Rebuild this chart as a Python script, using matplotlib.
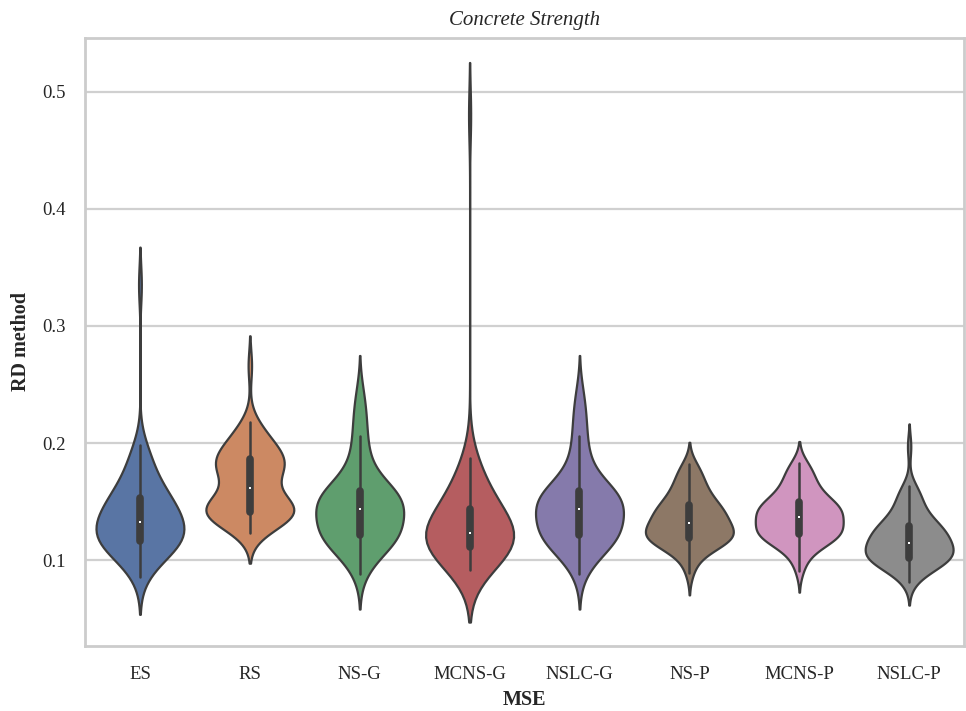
import matplotlib
matplotlib.use("Agg")
import matplotlib.pyplot as plt
import seaborn as sns
import pandas as pd

# MSE of each method over the runs (estimated from the violins)
methods = ["ES", "RS", "NS-G", "MCNS-G", "NSLC-G", "NS-P", "MCNS-P", "NSLC-P"]

es = [0.086, 0.092, 0.097, 0.100, 0.103, 0.105, 0.107, 0.109, 0.110, 0.111,
      0.112, 0.113, 0.114, 0.115, 0.116, 0.117, 0.118, 0.119, 0.120, 0.121,
      0.122, 0.123, 0.124, 0.125, 0.126, 0.127, 0.128, 0.129, 0.130, 0.132,
      0.134, 0.135, 0.136, 0.138, 0.139, 0.140, 0.142, 0.143, 0.145, 0.146,
      0.147, 0.148, 0.150, 0.151, 0.153, 0.154, 0.156, 0.158, 0.160, 0.163,
      0.166, 0.169, 0.172, 0.176, 0.180, 0.184, 0.189, 0.193, 0.198, 0.335]
rs = [0.123, 0.126, 0.129, 0.131, 0.133, 0.134, 0.135, 0.136, 0.137, 0.138,
      0.139, 0.139, 0.140, 0.140, 0.141, 0.141, 0.142, 0.143, 0.144, 0.145,
      0.146, 0.147, 0.148, 0.149, 0.150, 0.151, 0.152, 0.154, 0.156, 0.160,
      0.164, 0.167, 0.170, 0.172, 0.174, 0.176, 0.177, 0.178, 0.179, 0.180,
      0.181, 0.182, 0.183, 0.184, 0.186, 0.188, 0.189, 0.190, 0.192, 0.193,
      0.195, 0.197, 0.199, 0.201, 0.204, 0.207, 0.210, 0.214, 0.218, 0.266]
ns_g = [0.088, 0.095, 0.100, 0.104, 0.107, 0.110, 0.112, 0.114, 0.115, 0.116,
        0.117, 0.118, 0.119, 0.120, 0.121, 0.122, 0.123, 0.125, 0.126, 0.128,
        0.129, 0.131, 0.132, 0.134, 0.135, 0.137, 0.138, 0.139, 0.141, 0.143,
        0.145, 0.146, 0.147, 0.148, 0.149, 0.150, 0.151, 0.152, 0.153, 0.154,
        0.155, 0.156, 0.157, 0.158, 0.159, 0.160, 0.162, 0.165, 0.168, 0.172,
        0.176, 0.180, 0.185, 0.193, 0.200, 0.206, 0.216, 0.224, 0.232, 0.245]
mcns_g = [0.092, 0.096, 0.099, 0.101, 0.103, 0.104, 0.105, 0.106, 0.107, 0.108,
          0.108, 0.109, 0.110, 0.110, 0.111, 0.111, 0.112, 0.113, 0.114, 0.114,
          0.115, 0.116, 0.117, 0.118, 0.118, 0.119, 0.120, 0.121, 0.122, 0.122,
          0.124, 0.125, 0.126, 0.127, 0.128, 0.130, 0.131, 0.132, 0.134, 0.135,
          0.137, 0.138, 0.139, 0.141, 0.143, 0.145, 0.147, 0.149, 0.151, 0.154,
          0.157, 0.160, 0.163, 0.166, 0.170, 0.174, 0.178, 0.182, 0.187, 0.480]
nslc_g = [0.088, 0.095, 0.100, 0.104, 0.107, 0.110, 0.112, 0.114, 0.115, 0.116,
          0.117, 0.118, 0.119, 0.120, 0.121, 0.122, 0.123, 0.125, 0.126, 0.128,
          0.129, 0.131, 0.132, 0.134, 0.135, 0.137, 0.138, 0.139, 0.141, 0.143,
          0.145, 0.146, 0.147, 0.148, 0.149, 0.150, 0.151, 0.152, 0.153, 0.154,
          0.155, 0.156, 0.157, 0.158, 0.159, 0.160, 0.162, 0.165, 0.168, 0.172,
          0.176, 0.180, 0.185, 0.193, 0.200, 0.206, 0.216, 0.224, 0.232, 0.245]
ns_p = [0.089, 0.097, 0.102, 0.106, 0.109, 0.111, 0.112, 0.113, 0.114, 0.115,
        0.116, 0.116, 0.117, 0.118, 0.119, 0.119, 0.120, 0.121, 0.122, 0.122,
        0.123, 0.124, 0.125, 0.125, 0.126, 0.127, 0.128, 0.128, 0.129, 0.131,
        0.133, 0.134, 0.135, 0.136, 0.137, 0.138, 0.139, 0.140, 0.141, 0.142,
        0.143, 0.144, 0.145, 0.146, 0.147, 0.149, 0.150, 0.152, 0.154, 0.156,
        0.158, 0.160, 0.162, 0.164, 0.167, 0.170, 0.173, 0.176, 0.179, 0.182]
mcns_p = [0.091, 0.099, 0.104, 0.108, 0.111, 0.113, 0.115, 0.116, 0.117, 0.118,
          0.119, 0.120, 0.120, 0.121, 0.122, 0.122, 0.123, 0.124, 0.125, 0.126,
          0.127, 0.128, 0.129, 0.130, 0.131, 0.132, 0.133, 0.134, 0.135, 0.136,
          0.138, 0.139, 0.140, 0.140, 0.141, 0.142, 0.143, 0.144, 0.144, 0.145,
          0.146, 0.147, 0.148, 0.148, 0.149, 0.151, 0.152, 0.154, 0.156, 0.158,
          0.160, 0.162, 0.164, 0.166, 0.169, 0.172, 0.175, 0.178, 0.180, 0.183]
nslc_p = [0.081, 0.086, 0.089, 0.091, 0.093, 0.095, 0.096, 0.097, 0.098, 0.099,
          0.100, 0.100, 0.101, 0.101, 0.102, 0.102, 0.103, 0.104, 0.105, 0.106,
          0.107, 0.108, 0.109, 0.110, 0.110, 0.111, 0.112, 0.113, 0.113, 0.114,
          0.116, 0.117, 0.118, 0.119, 0.120, 0.121, 0.122, 0.123, 0.124, 0.125,
          0.126, 0.127, 0.128, 0.128, 0.129, 0.131, 0.132, 0.134, 0.136, 0.138,
          0.140, 0.142, 0.145, 0.148, 0.151, 0.154, 0.157, 0.160, 0.163, 0.197]

series = [es, rs, ns_g, mcns_g, nslc_g, ns_p, mcns_p, nslc_p]

rows = []
for name, vals in zip(methods, series):
    for v in vals:
        rows.append((name, v))
df = pd.DataFrame(rows, columns=["MSE", "RD method"])

sns.set_theme(style="whitegrid")
plt.rcParams["font.family"] = ["Liberation Serif", "DejaVu Serif"]
plt.rcParams["axes.edgecolor"] = "#cccccc"
plt.rcParams["axes.linewidth"] = 2.0
plt.rcParams["grid.color"] = "#d0d0d0"
plt.rcParams["grid.linewidth"] = 1.6

fig = plt.figure(figsize=(9.66, 7.11), dpi=100)
ax = fig.add_axes([0.088, 0.091, 0.910, 0.856])

sns.violinplot(data=df, x="MSE", y="RD method", hue="MSE", order=methods,
               hue_order=methods, palette="deep", density_norm="width",
               linewidth=1.6, linecolor="#3d3d3d",
               inner_kws=dict(box_width=5.5, whis_width=1.8),
               legend=False, ax=ax)

# median shown as a small white dot
for ln in ax.lines:
    if ln.get_marker() not in (None, "None", ""):
        ln.set_marker("s")
        ln.set_markersize(2)
        ln.set_markeredgewidth(0)
        ln.set_markerfacecolor("white")

ax.set_ylim(0.0265, 0.546)
ax.set_yticks([0.1, 0.2, 0.3, 0.4, 0.5])
ax.tick_params(axis="both", labelsize=13.5, colors="#262626", pad=8)
ax.xaxis.grid(False)
ax.set_title("Concrete Strength", fontsize=15, style="italic", pad=9)
ax.set_xlabel("MSE", fontsize=14.5, fontweight="bold", labelpad=5)
ax.set_ylabel("RD method", fontsize=14.5, fontweight="bold", labelpad=8)

fig.savefig("out.png", dpi=100)
